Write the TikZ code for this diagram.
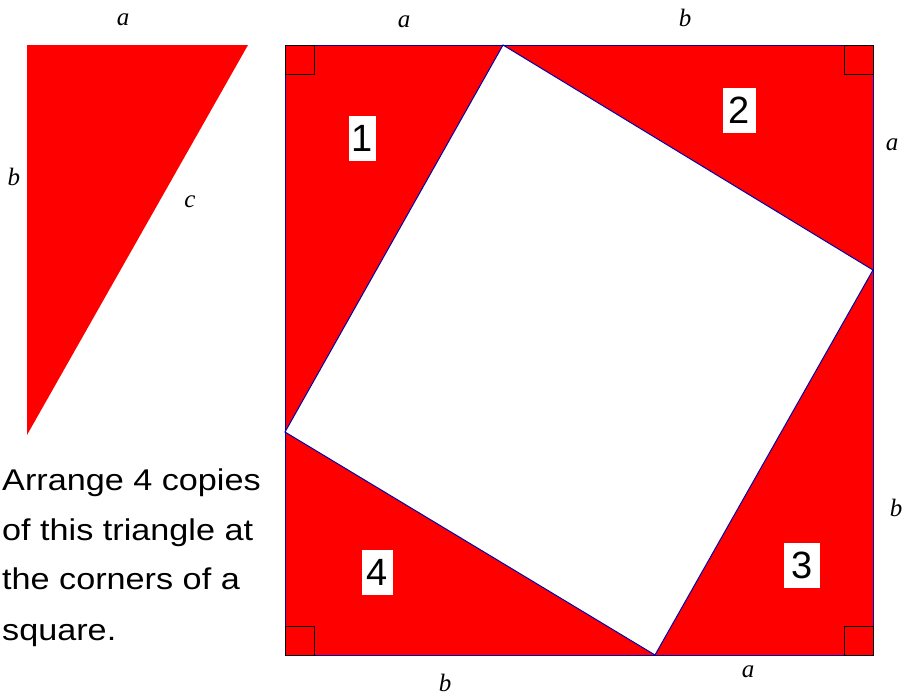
\documentclass[tikz,border=0pt]{standalone}
\usepackage{fontspec}
\setmainfont{Liberation Sans}
\newfontfamily\lblfont{Liberation Serif}
\begin{document}
\begin{tikzpicture}[x=1pt,y=-1pt,
  edge/.style={draw=blue!65!black,line width=1pt},
  rmark/.style={draw=black,line width=0.9pt},
  lbl/.style={font=\lblfont\itshape\fontsize{25}{25}\selectfont,inner sep=0pt},
  numbox/.style={fill=white,inner sep=0pt,minimum width=31,minimum height=45,font=\fontsize{38}{38}\selectfont},
  txt/.style={anchor=base west,inner sep=0pt,font=\fontsize{30}{30}\selectfont}]
\useasboundingbox (0,0) rectangle (909,697);
% left triangle
\coordinate (LA) at (27,45);
\coordinate (LB) at (248,45);
\coordinate (LC) at (27,435);
\fill[red] (LA) -- (LB) -- (LC) -- cycle;
\node[lbl] (la) at (123,20) {a};
\node[lbl] (lb) at (14,177) {b};
\node[lbl] (lc) at (190,202) {c};
% text
\node[txt] (t1) at (2,490) {\scalebox{1.14}[1]{Arrange 4 copies}};
\node[txt] (t2) at (2,540) {\scalebox{1.14}[1]{of this triangle at}};
\node[txt] (t3) at (2,589) {\scalebox{1.14}[1]{the corners of a}};
\node[txt] (t4) at (2,640) {\scalebox{1.14}[1]{square.}};
% big square
\coordinate (TL) at (285,45);
\coordinate (TR) at (873,45);
\coordinate (BR) at (873,655);
\coordinate (BL) at (285,655);
\coordinate (PT) at (503,45);
\coordinate (PR) at (873,270);
\coordinate (PB) at (655,655);
\coordinate (PL) at (285,432);
\fill[red] (TL) -- (TR) -- (BR) -- (BL) -- cycle;
\fill[white] (PT) -- (PR) -- (PB) -- (PL) -- cycle;
\draw[edge] (TL) -- (TR) -- (BR) -- (BL) -- cycle;
\draw[edge] (PT) -- (PR) -- (PB) -- (PL) -- cycle;
% right-angle marks
\draw[rmark] (TL) rectangle ++(29,29);
\draw[rmark] (TR) rectangle ++(-29,29);
\draw[rmark] (BR) rectangle ++(-29,-29);
\draw[rmark] (BL) rectangle ++(29,-29);
% numbers
\node[numbox,minimum width=27] (n1) at (362.5,138) {1};
\node[numbox,minimum width=33] (n2) at (739.5,110) {2};
\node[numbox,minimum width=36] (n3) at (802,565) {3};
\node[numbox,minimum width=31] (n4) at (377.5,572.5) {4};
% side labels
\node[lbl] (sa1) at (404,22) {a};
\node[lbl] (sb1) at (685,18) {b};
\node[lbl] (sa2) at (892,145) {a};
\node[lbl] (sb2) at (896,508) {b};
\node[lbl] (sb3) at (445,683) {b};
\node[lbl] (sa3) at (748,672) {a};
\end{tikzpicture}
\end{document}
